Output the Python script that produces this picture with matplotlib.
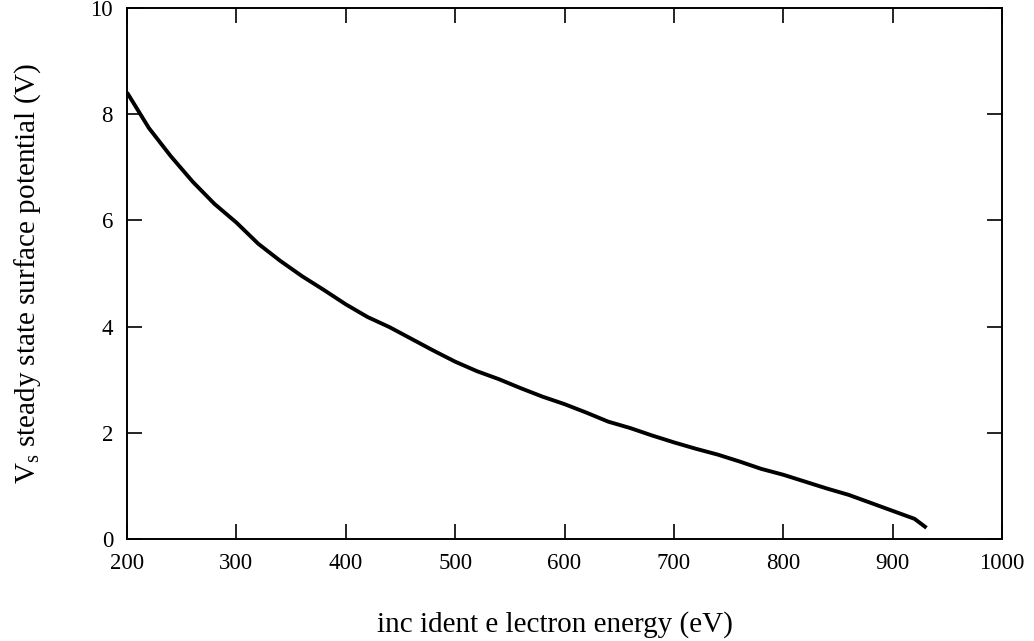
import matplotlib
import matplotlib.pyplot as plt

matplotlib.use("Agg")

plt.rcParams["font.family"] = ["Liberation Serif", "DejaVu Serif"]
plt.rcParams["mathtext.fontset"] = "custom"
plt.rcParams["mathtext.rm"] = "Liberation Serif"
plt.rcParams["mathtext.it"] = "Liberation Serif:italic"

# incident energy (eV) vs steady state surface potential (V)
energy = [200, 220, 240, 260, 280, 300, 320, 340, 360, 380, 400, 420, 440,
          460, 480, 500, 520, 540, 560, 580, 600, 620, 640, 660, 680, 700,
          720, 740, 760, 780, 800, 820, 840, 860, 880, 900, 920, 931]
potential = [8.41, 7.74, 7.21, 6.73, 6.31, 5.96, 5.56, 5.24, 4.95, 4.69,
             4.42, 4.18, 3.99, 3.77, 3.55, 3.34, 3.16, 3.01, 2.84, 2.68,
             2.54, 2.38, 2.21, 2.09, 1.95, 1.82, 1.70, 1.59, 1.46, 1.32,
             1.21, 1.08, 0.95, 0.83, 0.68, 0.53, 0.38, 0.21]
x_ticks = [200, 300, 400, 500, 600, 700, 800, 900, 1000]
y_ticks = [0, 2, 4, 6, 8, 10]

W, H = 1034, 641
fig = plt.figure(figsize=(W / 100, H / 100), dpi=100)
ax = fig.add_axes([127 / W, 1 - 539 / H, (1002 - 127) / W, (539 - 8) / H])

ax.plot(energy, potential, color="black", lw=2.8, solid_capstyle="butt")

ax.set_xlim(200, 1000)
ax.set_ylim(0, 10)
ax.set_xticks(x_ticks)
ax.set_yticks(y_ticks)
ax.tick_params(direction="in", length=11, width=1.2, top=True, right=True,
               labelsize=16.5, pad=10, color="black")
for s in ax.spines.values():
    s.set_linewidth(1.4)

# axis titles placed in figure pixels, like the original
fig.text(377 / W, 1 - 632 / H, "inc ident e lectron energy (eV)", fontsize=21,
         ha="left", va="baseline")
fig.text(28 / W, 1 - 484 / H, r"V$_{\rm s}$ steady state surface potential (V)",
         fontsize=21, rotation=90, ha="center", va="bottom")

fig.savefig("out.png", dpi=100)
